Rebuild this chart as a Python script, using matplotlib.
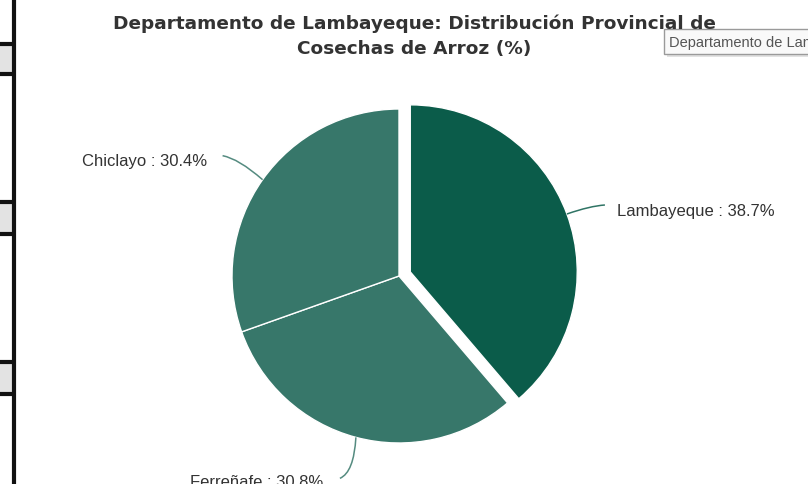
import numpy as np
import matplotlib
matplotlib.use("Agg")
import matplotlib.pyplot as plt
from matplotlib.path import Path
from matplotlib.patches import PathPatch, Rectangle

# ---- data ----
categories = ["Lambayeque", "Ferreñafe", "Chiclayo"]
values = [38.7, 30.8, 30.4]
colors = ["#0b5c4a", "#37776a", "#37776a"]
title_lines = ["Departamento de Lambayeque: Distribución Provincial de",
               "Cosechas de Arroz (%)"]
tooltip_text = "Departamento de Lambayeque: Distribución Provincial de Cosechas de Arroz (%)"

W, H = 808, 485
fig = plt.figure(figsize=(W / 100, H / 100), dpi=100)
fig.patch.set_facecolor("white")
ax = fig.add_axes([0, 0, 1, 1])

def iy(y):  # image y -> plot y
    return H - y

wedges, _ = ax.pie(values, colors=colors, startangle=90, counterclock=False,
                   explode=[12, 0, 0], radius=167, center=(399, iy(277)),
                   wedgeprops=dict(edgecolor="white", linewidth=1.0))
ax.set_xlim(0, W)
ax.set_ylim(0, H)
ax.set_aspect("auto")
ax.axis("off")

# label styles: end offset, control offset, label offset, alignment
styles = {
    "Lambayeque": dict(end=(38, 9), ctrl=(23, 8), lab=(12, -6), ha="left"),
    "Chiclayo": dict(end=(-40, 24), ctrl=(-24, 21), lab=(-15, -5), ha="right"),
    "Ferreñafe": dict(end=(-16, -41), ctrl=(-2, -35), lab=(-17, -3), ha="right"),
}
for w, cat, v in zip(wedges, categories, values):
    mid = np.deg2rad((w.theta1 + w.theta2) / 2)
    cx, cy = w.center
    ex, ey = cx + w.r * np.cos(mid), cy + w.r * np.sin(mid)
    st = styles[cat]
    end = (ex + st["end"][0], ey + st["end"][1])
    ctrl = (ex + st["ctrl"][0], ey + st["ctrl"][1])
    path = Path([(ex, ey), ctrl, end], [Path.MOVETO, Path.CURVE3, Path.CURVE3])
    ax.add_patch(PathPatch(path, facecolor="none", edgecolor=colors[categories.index(cat)],
                           lw=1.1, alpha=0.85))
    ax.text(end[0] + st["lab"][0], end[1] + st["lab"][1], f"{cat} : {v}%",
            ha=st["ha"], va="center", fontsize=12, family="Liberation Sans",
            color="#333333")

# title (fit width)
t1 = fig.text(414 / W, 1 - 24 / H, title_lines[0], ha="center", va="center",
              fontsize=14, fontweight="bold", family="DejaVu Sans", color="#333333")
t2 = fig.text(414 / W, 1 - 49 / H, title_lines[1], ha="center", va="center",
              fontsize=14, fontweight="bold", family="DejaVu Sans", color="#333333")
fig.canvas.draw()
wpx = t1.get_window_extent().width
fs = 14 * 604 / wpx
t1.set_fontsize(fs)
t2.set_fontsize(fs)

# tooltip
ax.add_patch(Rectangle((667, iy(58)), 200, 25, facecolor="#d0d0d0", edgecolor="none",
                       alpha=0.6, zorder=5))
ax.add_patch(Rectangle((664, iy(55)), 200, 25, facecolor="#f9f9f9", edgecolor="#9a9a9a",
                       lw=1.0, zorder=6))
ax.text(669, iy(43), tooltip_text, ha="left", va="center", fontsize=10.5,
        family="Liberation Sans", color="#555555", zorder=7, clip_on=True)

# left frame elements
ax.plot([14, 14], [0, H], color="#111111", lw=3, zorder=8, solid_capstyle="butt")
for y0, y1 in [(45, 75), (203, 235), (363, 395)]:
    ax.add_patch(Rectangle((0, iy(y1)), 14, y1 - y0, facecolor="#e3e3e3",
                           edgecolor="none", zorder=7))
    for yy in (y0, y1):
        ax.plot([0, 14], [iy(yy), iy(yy)], color="#111111", lw=3, zorder=8,
                solid_capstyle="butt")

fig.savefig("out.png", dpi=100)
